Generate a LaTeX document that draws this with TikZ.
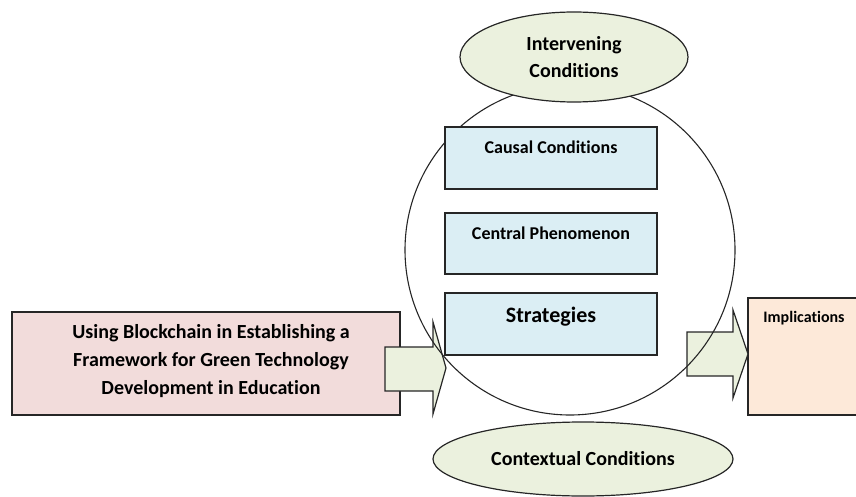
\documentclass[tikz,border=0pt]{standalone}
\usepackage{fontspec}
\setmainfont{Carlito}[Ligatures=NoCommon]
\usetikzlibrary{shapes.geometric,calc}
\definecolor{pinkf}{HTML}{F2DCDB}
\definecolor{bluef}{HTML}{DBEEF4}
\definecolor{greenf}{HTML}{EBF1DE}
\definecolor{peachf}{HTML}{FDE9D9}
\definecolor{edgec}{HTML}{262626}
\tikzset{
  boxstyle/.style={draw=edgec, line width=1.2pt, rectangle, inner sep=0pt},
  ellstyle/.style={draw=edgec, line width=1.2pt, ellipse, fill=greenf, inner sep=0pt, align=center,
     font=\bfseries\fontsize{20pt}{27pt}\selectfont},
  arrowstyle/.style={draw=edgec, line width=1.2pt, fill=greenf, line join=miter},
  lbl/.style={font=\bfseries\fontsize{18pt}{22pt}\selectfont, inner sep=0pt}
}
\begin{document}
\begin{tikzpicture}[x=1pt,y=-1pt]
\useasboundingbox (0,0) rectangle (856,497);
% left framework box
\node[boxstyle, fill=pinkf, minimum width=388pt, minimum height=103pt] (frame) at (206,363.5) {};
\node[align=center, inner sep=0pt, font=\bfseries\fontsize{20pt}{28pt}\selectfont] (frametxt) at (211,361)
  {Using Blockchain in Establishing a\\Framework for Green Technology\\Development in Education};
% implications box
\node[boxstyle, fill=peachf, minimum width=122pt, minimum height=117pt] (impl) at (809,356.5) {};
\node[inner sep=0pt, font=\bfseries\fontsize{16pt}{20pt}\selectfont] (impltxt) at (804,318) {Implications};
% block arrows
\draw[arrowstyle] (385,347) -- (433,347) -- (433,322) -- (446,368) -- (433,414) -- (433,391) -- (385,391) -- cycle;
\draw[arrowstyle] (687,332) -- (733,332) -- (733,310) -- (748,354) -- (733,398) -- (733,376) -- (687,376) -- cycle;
% circle
\node[draw=edgec, line width=1.1pt, circle, minimum size=330pt, inner sep=0pt] (circ) at (570,250) {};
% inner boxes
\node[boxstyle, fill=bluef, minimum width=212pt, minimum height=62pt] (causal) at (551,158) {};
\node[lbl] at ($(causal.north)+(0,21)$) {Causal Conditions};
\node[boxstyle, fill=bluef, minimum width=212pt, minimum height=61pt] (central) at (551,243.5) {};
\node[lbl] at ($(central.north)+(0,21)$) {Central Phenomenon};
\node[boxstyle, fill=bluef, minimum width=212pt, minimum height=62pt] (strat) at (551,324) {};
\node[lbl, font=\bfseries\fontsize{22pt}{26pt}\selectfont] at ($(strat.north)+(0,24)$) {Strategies};
% ellipses
\node[ellstyle, minimum width=228pt, minimum height=90pt] (interv) at (574,57) {Intervening\\Conditions};
\node[ellstyle, minimum width=300pt, minimum height=74pt] (context) at (583,459) {Contextual Conditions};
\end{tikzpicture}
\end{document}
